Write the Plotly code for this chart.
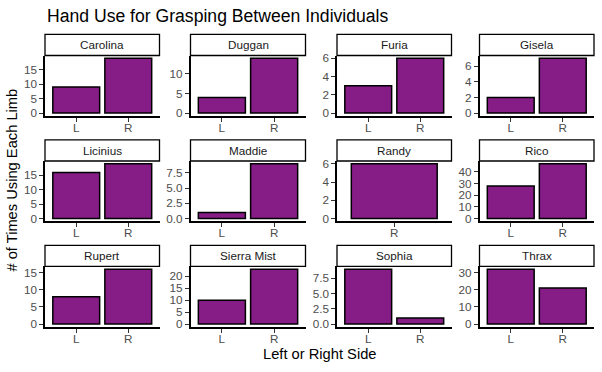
import plotly.graph_objects as go

# ---- data ----
individuals = ["Carolina", "Duggan", "Furia", "Gisela",
               "Licinius", "Maddie", "Randy", "Rico",
               "Rupert", "Sierra Mist", "Sophia", "Thrax"]
sides = ["L", "R"]
left_counts = [9, 4, 3, 2, 16, 1, None, 28, 8, 10, 9, 32]
right_counts = [19, 14, 6, 7, 19, 9, 6, 47, 16, 23, 1, 21]
y_dticks = [5, 5, 2, 2, 5, 2.5, 2, 10, 5, 5, 2.5, 10]

title_text = "Hand Use for Grasping Between Individuals"
x_title = "Left or Right Side"
y_title = "# of Times Using Each Limb"

# ---- layout geometry (pixels) ----
W, H = 602, 372
col_px = [(45, 159.5), (190.5, 305.5), (337, 451.5), (479.5, 594)]
panel_bottom = [114, 221.5, 329]
panel_h = 61.5
strip_h = 21.5
FONT = "Liberation Sans, Arial, Helvetica, sans-serif"
PURPLE = "#861C86"

fig = go.Figure()
for i, name in enumerate(individuals):
    r, c = divmod(i, 4)
    xs, ys = [], []
    for s, v in zip(sides, [left_counts[i], right_counts[i]]):
        if v is not None:
            xs.append(s)
            ys.append(v)
    ax = "" if i == 0 else str(i + 1)
    fig.add_trace(go.Bar(
        x=xs, y=ys, xaxis="x" + ax, yaxis="y" + ax,
        marker=dict(color=PURPLE, line=dict(color="black", width=1.5)),
        showlegend=False, hoverinfo="x+y"))
    x0, x1 = col_px[c]
    yb = panel_bottom[r]
    yt = yb - panel_h
    ymax = max(ys)
    dt = y_dticks[i]
    fig.layout["xaxis" + ax] = dict(
        domain=[x0 / W, x1 / W], anchor="y" + ax, type="category",
        range=[-0.6, len(xs) - 0.4], showline=True, linecolor="black",
        linewidth=1.5, ticks="outside", ticklen=4, tickwidth=1.4,
        tickcolor="#333333", showgrid=False, zeroline=False,
        ticklabelstandoff=-4,
        tickfont=dict(family=FONT, size=11.7, color="#4D4D4D"), fixedrange=True)
    fig.layout["yaxis" + ax] = dict(
        domain=[1 - yb / H, 1 - yt / H], anchor="x" + ax,
        range=[-0.05 * ymax, 1.05 * ymax], tickmode="linear", tick0=0, dtick=dt,
        tickformat=".1f" if dt % 1 else "d",
        showline=True, linecolor="black", linewidth=1.5, ticks="outside",
        ticklen=4, tickwidth=1.4, tickcolor="#333333", showgrid=False,
        zeroline=False, tickfont=dict(family=FONT, size=11.7, color="#4D4D4D"),
        fixedrange=True)
    # facet strip
    fig.add_shape(type="rect", xref="paper", yref="paper",
                  x0=x0 / W, x1=x1 / W, y0=1 - yt / H, y1=1 - (yt - strip_h) / H,
                  fillcolor="white", line=dict(color="black", width=1.3))
    fig.add_annotation(text=name, xref="paper", yref="paper",
                       x=(x0 + x1) / 2 / W, y=1 - (yt - strip_h / 2) / H,
                       showarrow=False, xanchor="center", yanchor="middle",
                       font=dict(family=FONT, size=11.7, color="#1A1A1A"))

fig.add_annotation(text=title_text, xref="paper", yref="paper",
                   x=45 / W, y=1 - 12.5 / H, xanchor="left", yanchor="middle",
                   showarrow=False, font=dict(family=FONT, size=17.6, color="black"))
fig.add_annotation(text=x_title, xref="paper", yref="paper",
                   x=319.5 / W, y=1 - 357 / H, xanchor="center", yanchor="middle",
                   showarrow=False, font=dict(family=FONT, size=14.7, color="black"))
fig.add_annotation(text=y_title, xref="paper", yref="paper",
                   x=12 / W, y=1 - 180 / H, xanchor="center", yanchor="middle",
                   textangle=-90, showarrow=False,
                   font=dict(family=FONT, size=14.7, color="black"))

fig.update_layout(width=W, height=H, autosize=False,
                  margin=dict(l=0, r=0, t=0, b=0, pad=0),
                  paper_bgcolor="white", plot_bgcolor="white",
                  bargap=0.1, font=dict(family=FONT))

fig.write_html("out.html", config={"displayModeBar": False},
               post_script="document.body.style.margin='0px';"
                           "document.body.style.padding='0px';")
